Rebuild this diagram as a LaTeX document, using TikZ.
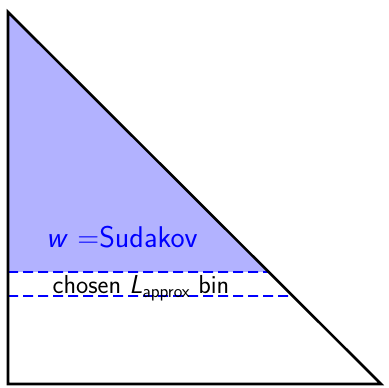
\documentclass[tikz,border=0pt]{standalone}
\usetikzlibrary{calc}
\begin{document}
\begin{tikzpicture}[x=1pt,y=1pt,
  edge/.style={line width=2.6pt, line join=miter},
  binline/.style={blue, line width=1.8pt, dash pattern=on 10pt off 5pt},
  lbl/.style={font=\sffamily\fontsize{26}{30}\selectfont, inner sep=0pt}]
\useasboundingbox (0,0) rectangle (389,388);
\coordinate (A) at (8,376);
\coordinate (B) at (8,4);
\coordinate (C) at (381,4);
\coordinate (U) at ($(A)!{260/372}!(C)$);
\coordinate (Ul) at (8,116);
\coordinate (Lo) at ($(A)!{284/372}!(C)$);
\coordinate (Ll) at (8,92);
\fill[blue!30] (A) -- (Ul) -- (U) -- cycle;
\draw[binline] (Ul) -- (U);
\draw[binline] (Ll) -- (Lo);
\draw[edge] (A) -- (B) -- (C) -- cycle;
\node[lbl, text=blue, font=\sffamily\fontsize{30}{34}\selectfont] (w) at (122,151) {\textit{w} =Sudakov};
\node[lbl, anchor=base] (bin) at (141,94) {chosen \textit{L}\textsubscript{approx} bin};
\end{tikzpicture}
\end{document}
